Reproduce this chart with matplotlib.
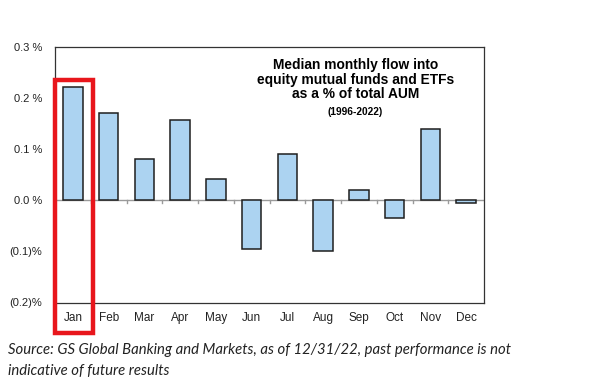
import numpy as np
import matplotlib.pyplot as plt
from matplotlib.patches import Rectangle

# median monthly flow, % of total AUM
months = ['Jan', 'Feb', 'Mar', 'Apr', 'May', 'Jun', 'Jul', 'Aug', 'Sep', 'Oct', 'Nov', 'Dec']
flows = [0.222, 0.170, 0.080, 0.157, 0.042, -0.096, 0.091, -0.100, 0.021, -0.035, 0.139, -0.005]
yticks = [-0.2, -0.1, 0.0, 0.1, 0.2, 0.3]
ytick_labels = ['(0.2)%', '(0.1)%', '0.0 %', '0.1 %', '0.2 %', '0.3 %']

plt.rcParams['font.family'] = ['Liberation Sans', 'DejaVu Sans']

fig = plt.figure(figsize=(6, 3.87), dpi=100)
ax = fig.add_axes([55/600, 1 - 302.5/387, 429/600, 255.5/387])

x = np.arange(len(months))
ax.bar(x, flows, width=0.54, color='#acd3f1', edgecolor='#1e1e1e', linewidth=1.1, zorder=3)

ax.set_xlim(-0.5, len(months) - 0.5)
ax.set_ylim(-0.2, 0.3)
ax.set_yticks(yticks)
ax.set_yticklabels(ytick_labels)
ax.set_xticks(x)
ax.set_xticklabels(months)
ax.tick_params(axis='y', length=0, labelsize=8, colors='#222222', pad=9)
ax.tick_params(axis='x', length=0, labelsize=8.5, colors='#222222', pad=7)

# zero line with little ticks between the months
ax.axhline(0, color='#9a9a9a', linewidth=1.0, zorder=2)
for b in np.arange(0.5, len(months) - 0.5):
    ax.plot([b, b], [0, -0.006], color='#9a9a9a', linewidth=1.0, zorder=2)

for s in ax.spines.values():
    s.set_color('#333333')
    s.set_linewidth(0.9)

ax.text(0.70, 0.957, 'Median monthly flow into\nequity mutual funds and ETFs\nas a % of total AUM',
        transform=ax.transAxes, ha='center', va='top', fontsize=9.9, fontweight='bold',
        linespacing=1.05)
ax.text(0.70, 0.765, '(1996-2022)', transform=ax.transAxes, ha='center', va='top',
        fontsize=7.3, fontweight='bold')

# highlight January
fig.patches.append(Rectangle((55/600, 1 - 333/387), 38/600, 253/387, transform=fig.transFigure,
                             fill=False, edgecolor='#e8161c', linewidth=3.2))

fig.text(8/600, 1 - 343/387, 'Source: GS Global Banking and Markets, as of 12/31/22, past performance is not\nindicative of future results',
         ha='left', va='top', fontsize=10.7, style='italic', family=['Lato', 'DejaVu Sans'],
         color='#222222', linespacing=1.65)

fig.savefig('out.png', dpi=100, facecolor='white')
